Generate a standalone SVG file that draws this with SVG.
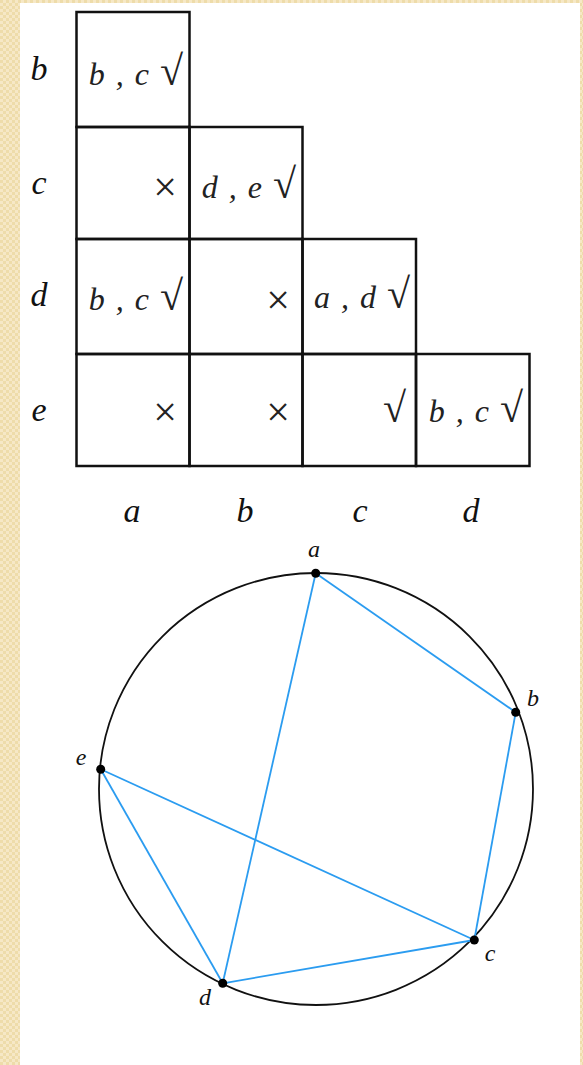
<svg xmlns="http://www.w3.org/2000/svg" width="583" height="1065" viewBox="0 0 583 1065">
<style>
.lbl{font-family:"Liberation Serif",serif;font-style:italic;font-size:34px;fill:#111}
.cell{font-family:"Liberation Serif",serif;font-style:italic;font-size:32px;fill:#222;word-spacing:3px}
.chk{font-style:normal;font-size:42px}
.x{font-family:"Liberation Serif",serif;font-size:42px;fill:#222}
.grid rect{fill:none;stroke:#111;stroke-width:2.5}
.vl{font-family:"Liberation Serif",serif;font-style:italic;font-size:24px;fill:#111}
.edge{stroke:#2b9cf0;stroke-width:1.8;fill:none}
.dot{fill:#000}
</style>
<defs>
<pattern id="bg" width="6" height="6" patternUnits="userSpaceOnUse">
<rect width="6" height="6" fill="#f6e8c6"/>
<rect width="3" height="3" fill="#eedcaa"/>
<rect x="3" y="3" width="3" height="3" fill="#eedcaa"/>
</pattern>
</defs>
<rect width="583" height="1065" fill="url(#bg)"/>
<rect x="20" y="3" width="560" height="1062" fill="#fff"/>

<g id="table" class="grid">
<rect x="76.5" y="12" width="113" height="115"/>
<rect x="76.5" y="127" width="113" height="112"/>
<rect x="189.5" y="127" width="113" height="112"/>
<rect x="76.5" y="239" width="113" height="115"/>
<rect x="189.5" y="239" width="113" height="115"/>
<rect x="302.5" y="239" width="113.5" height="115"/>
<rect x="76.5" y="354" width="113" height="112"/>
<rect x="189.5" y="354" width="113" height="112"/>
<rect x="302.5" y="354" width="113.5" height="112"/>
<rect x="416" y="354" width="113.5" height="112"/>
</g>

<g id="row-labels">
<text class="lbl" x="39" y="80" text-anchor="middle">b</text>
<text class="lbl" x="39" y="194" text-anchor="middle">c</text>
<text class="lbl" x="39" y="306" text-anchor="middle">d</text>
<text class="lbl" x="39" y="421" text-anchor="middle">e</text>
</g>
<g id="col-labels">
<text class="lbl" x="132" y="522" text-anchor="middle">a</text>
<text class="lbl" x="245" y="522" text-anchor="middle">b</text>
<text class="lbl" x="360" y="522" text-anchor="middle">c</text>
<text class="lbl" x="471" y="522" text-anchor="middle">d</text>
</g>

<g id="cells">
<text class="cell" x="183" y="85" text-anchor="end">b , c <tspan class="chk">√</tspan></text>
<text class="x" x="177" y="201" text-anchor="end">×</text>
<text class="cell" x="296" y="198" text-anchor="end">d , e <tspan class="chk">√</tspan></text>
<text class="cell" x="183" y="310" text-anchor="end">b , c <tspan class="chk">√</tspan></text>
<text class="x" x="290" y="314" text-anchor="end">×</text>
<text class="cell" x="410" y="308" text-anchor="end">a , d <tspan class="chk">√</tspan></text>
<text class="x" x="177" y="426" text-anchor="end">×</text>
<text class="x" x="290" y="426" text-anchor="end">×</text>
<text class="cell" x="406" y="422" text-anchor="end"><tspan class="chk">√</tspan></text>
<text class="cell" x="523" y="422" text-anchor="end">b , c <tspan class="chk">√</tspan></text>
</g>

<g id="circle">
<ellipse cx="316" cy="789" rx="217" ry="216" fill="none" stroke="#111" stroke-width="1.8"/>
</g>

<g id="connectors">
<line class="edge" x1="315.7" y1="573.3" x2="515.7" y2="712.3"/>
<line class="edge" x1="315.7" y1="573.3" x2="222.7" y2="983.3"/>
<line class="edge" x1="515.7" y1="712.3" x2="474.3" y2="940"/>
<line class="edge" x1="474.3" y1="940" x2="222.7" y2="983.3"/>
<line class="edge" x1="100.7" y1="769.3" x2="222.7" y2="983.3"/>
<line class="edge" x1="100.7" y1="769.3" x2="474.3" y2="940"/>
</g>

<g id="node-a"><circle class="dot" cx="315.7" cy="573.3" r="4.5"/><text class="vl" x="314" y="557" text-anchor="middle">a</text></g>
<g id="node-b"><circle class="dot" cx="515.7" cy="712.3" r="4.5"/><text class="vl" x="533" y="706" text-anchor="middle">b</text></g>
<g id="node-c"><circle class="dot" cx="474.3" cy="940" r="4.5"/><text class="vl" x="490" y="961" text-anchor="middle">c</text></g>
<g id="node-d"><circle class="dot" cx="222.7" cy="983.3" r="4.5"/><text class="vl" x="205" y="1005" text-anchor="middle">d</text></g>
<g id="node-e"><circle class="dot" cx="100.7" cy="769.3" r="4.5"/><text class="vl" x="81" y="765" text-anchor="middle">e</text></g>
</svg>
